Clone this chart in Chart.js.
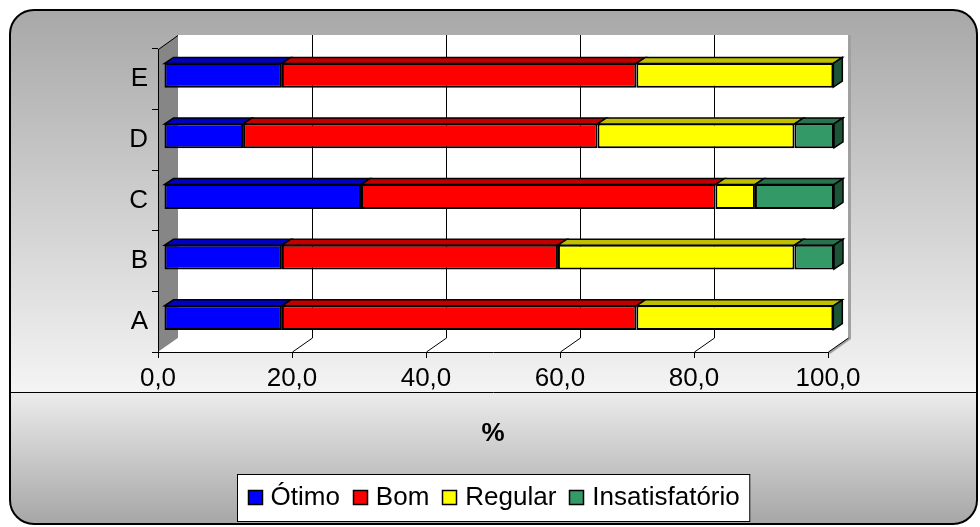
<!DOCTYPE html>
<html><head><meta charset="utf-8">
<script src="https://cdn.jsdelivr.net/npm/chart.js@4.4.0/dist/chart.umd.min.js"></script>
<style>html,body{margin:0;padding:0;background:#fff;} canvas{display:block;}</style>
</head><body>
<canvas id="c" width="980" height="527"></canvas>
<script>
const categories = ['A','B','C','D','E'];
const otimo = [17.6, 17.6, 29.4, 11.8, 17.6];
const bom = [52.9, 41.2, 52.9, 52.9, 52.9];
const regular = [29.4, 35.3, 5.9, 29.4, 29.4];
const insatisfatorio = [0, 5.9, 11.8, 5.9, 0];
const seriesNames = ['Ótimo', 'Bom', 'Regular', 'Insatisfatório'];
const xTicks = [0, 20, 40, 60, 80, 100];
const axisTitle = '%';

const colors = ['#0000FF', '#FF0000', '#FFFF00', '#339966'];
const topColors = ['#0000BF', '#BF0000', '#BFBF00', '#26734D'];
const sideColors = ['#00008C', '#8C0000', '#8C8C00', '#1C5438'];
const FONT = "'Liberation Sans', Arial, sans-serif";
const DEPTH = {dx: 20, dy: -14};
const BAR_SHIFT = {dx: 6, dy: -4};
const BAR_DEPTH = {dx: 9, dy: -6};

function rr(ctx, x, y, w, h, r) {
  ctx.beginPath();
  ctx.moveTo(x + r, y);
  ctx.lineTo(x + w - r, y);
  ctx.arcTo(x + w, y, x + w, y + r, r);
  ctx.lineTo(x + w, y + h - r);
  ctx.arcTo(x + w, y + h, x + w - r, y + h, r);
  ctx.lineTo(x + r, y + h);
  ctx.arcTo(x, y + h, x, y + h - r, r);
  ctx.lineTo(x, y + r);
  ctx.arcTo(x, y, x + r, y, r);
  ctx.closePath();
}
function poly(ctx, pts, fill, stroke, lw) {
  ctx.beginPath();
  ctx.moveTo(pts[0][0], pts[0][1]);
  for (let i = 1; i < pts.length; i++) ctx.lineTo(pts[i][0], pts[i][1]);
  ctx.closePath();
  if (fill) { ctx.fillStyle = fill; ctx.fill(); }
  if (stroke) { ctx.strokeStyle = stroke; ctx.lineWidth = lw || 1; ctx.stroke(); }
}

const threeD = {
  id: 'threeD',
  beforeDraw(chart) {
    const ctx = chart.ctx;
    const {left: L, right: R, top: T, bottom: B} = chart.chartArea;
    const xs = chart.scales.x;
    const splitY = 392;
    ctx.save();
    // frame background
    rr(ctx, 10, 10, 967, 514, 24);
    ctx.save();
    ctx.clip();
    let g1 = ctx.createLinearGradient(0, 10, 0, splitY);
    g1.addColorStop(0, '#a8a8a8');
    g1.addColorStop(1, '#f4f4f4');
    ctx.fillStyle = g1;
    ctx.fillRect(0, 0, 980, splitY);
    let g2 = ctx.createLinearGradient(0, splitY, 0, 524);
    g2.addColorStop(0, '#ececec');
    g2.addColorStop(1, '#a6a6a6');
    ctx.fillStyle = g2;
    ctx.fillRect(0, splitY, 980, 527 - splitY);
    ctx.restore();
    rr(ctx, 10, 10, 967, 514, 24);
    ctx.strokeStyle = '#000';
    ctx.lineWidth = 2;
    ctx.stroke();
    ctx.beginPath();
    ctx.moveTo(11, splitY + 0.5);
    ctx.lineTo(976, splitY + 0.5);
    ctx.lineWidth = 1;
    ctx.stroke();

    const dx = DEPTH.dx, dy = DEPTH.dy;
    // back wall thickness
    ctx.fillStyle = '#a0a0a0';
    ctx.fillRect(R + dx, T + dy, 3, B - T + 1);
    poly(ctx, [[R, B], [R + dx, B + dy], [R + dx + 3, B + dy + 1], [R + 2, B + 2]], '#a0a0a0');
    // back wall
    ctx.fillStyle = '#ffffff';
    ctx.fillRect(L + dx, T + dy, R - L, B - T);
    // side wall
    poly(ctx, [[L, T], [L + dx, T + dy], [L + dx, B + dy], [L, B]], '#868686');
    // floor
    poly(ctx, [[L, B], [R, B], [R + dx, B + dy], [L + dx, B + dy]], '#ffffff');
    // side wall top edge
    ctx.beginPath();
    ctx.moveTo(L + 0.5, T + 0.5);
    ctx.lineTo(L + dx, T + dy + 0.5);
    ctx.strokeStyle = '#000';
    ctx.lineWidth = 1;
    ctx.stroke();
    // gridlines
    ctx.strokeStyle = '#000';
    ctx.lineWidth = 1;
    xTicks.forEach(v => {
      const px = Math.round(xs.getPixelForValue(v)) + 0.5;
      if (v > 0 && v < 100) {
        ctx.beginPath();
        ctx.moveTo(px + dx, T + dy);
        ctx.lineTo(px + dx, B + dy);
        ctx.stroke();
      }
      if (v > 0) {
        ctx.beginPath();
        ctx.moveTo(px, B);
        ctx.lineTo(px + dx, B + dy);
        ctx.stroke();
      }
    });
    ctx.restore();
  },
  beforeDatasetsDraw(chart) {
    chart.ctx.save();
    chart.ctx.translate(BAR_SHIFT.dx, BAR_SHIFT.dy);
  },
  afterDatasetsDraw(chart) {
    const ctx = chart.ctx;
    const n = chart.data.datasets.length;
    const bx = BAR_DEPTH.dx, by = BAR_DEPTH.dy;
    ctx.lineJoin = 'miter';
    for (let i = 0; i < n; i++) {
      const meta = chart.getDatasetMeta(i);
      meta.data.forEach(el => {
        const p = el.getProps(['x', 'y', 'base', 'height'], true);
        const l = Math.min(p.x, p.base), r = Math.max(p.x, p.base);
        const t = p.y - p.height / 2 + 0.5, b = p.y + p.height / 2 - 0.5;
        if (r - l > 0.5) {
          poly(ctx, [[l, t], [r, t], [r + bx, t + by], [l + bx, t + by]], topColors[i], '#000', 1.5);
        }
        if (i === n - 1) {
          poly(ctx, [[r, t], [r + bx, t + by], [r + bx, b + by], [r, b]], sideColors[i], '#000', 1.5);
        }
      });
    }
    ctx.restore();
  },
  afterDraw(chart) {
    const ctx = chart.ctx;
    const xs = chart.scales.x;
    ctx.save();
    // axis title
    ctx.font = 'bold 26px ' + FONT;
    ctx.fillStyle = '#000';
    ctx.textAlign = 'center';
    ctx.textBaseline = 'alphabetic';
    ctx.fillText(axisTitle, (xs.left + xs.right) / 2, 441);
    // legend
    ctx.font = '26px ' + FONT;
    const sq = 15, gapT = 8, gapI = 13, pad = 10;
    const widths = seriesNames.map(s => ctx.measureText(s).width);
    let total = widths.reduce((a, w) => a + sq + gapT + w, 0) + gapI * (seriesNames.length - 1);
    const boxW = total + pad * 2;
    const cx = (xs.left + xs.right) / 2;
    const bx0 = Math.round(cx - boxW / 2) + 0.5;
    ctx.fillStyle = '#fff';
    ctx.fillRect(bx0, 474.5, boxW, 47);
    ctx.strokeStyle = '#000';
    ctx.lineWidth = 1;
    ctx.strokeRect(bx0, 474.5, boxW, 47);
    let x = bx0 + pad;
    ctx.textAlign = 'left';
    seriesNames.forEach((s, i) => {
      ctx.fillStyle = colors[i];
      ctx.fillRect(Math.round(x), 490, sq, sq);
      ctx.strokeStyle = '#000';
      ctx.lineWidth = 1.5;
      ctx.strokeRect(Math.round(x) + 0.5, 490.5, sq - 1, sq - 1);
      ctx.fillStyle = '#000';
      ctx.fillText(s, x + sq + gapT, 505);
      x += sq + gapT + widths[i] + gapI;
    });
    ctx.restore();
  }
};

const datasets = [otimo, bom, regular, insatisfatorio].map((d, i) => ({
  label: seriesNames[i],
  data: d,
  backgroundColor: colors[i],
  borderColor: '#000',
  borderWidth: 2,
  borderSkipped: false,
  categoryPercentage: 1.0,
  barPercentage: 0.41,
  clip: false
}));

new Chart(document.getElementById('c'), {
  type: 'bar',
  data: {labels: categories, datasets},
  options: {
    indexAxis: 'y',
    responsive: false,
    animation: false,
    events: [],
    layout: {padding: {left: 8, right: 152, top: 49, bottom: 135}},
    plugins: {legend: {display: false}, tooltip: {enabled: false}, title: {display: false}},
    scales: {
      x: {
        stacked: true,
        min: 0, max: 100,
        afterBuildTicks(s) { s.ticks = xTicks.map(v => ({value: v})); },
        afterFit(s) { s.height = 40; },
        grid: {drawOnChartArea: false, drawTicks: true, tickLength: 6, color: '#000'},
        border: {display: true, color: '#000', width: 1},
        ticks: {
          color: '#000', padding: 5, maxRotation: 0, autoSkip: false,
          font: {family: FONT, size: 26},
          callback: v => Number(v).toFixed(1).replace('.', ',')
        }
      },
      y: {
        stacked: true,
        reverse: true,
        afterFit(s) { s.width = 150; },
        grid: {drawOnChartArea: false, drawTicks: true, tickLength: 6, color: '#000'},
        border: {display: true, color: '#000', width: 1},
        ticks: {color: '#000', padding: 4, font: {family: FONT, size: 26}}
      }
    }
  },
  plugins: [threeD]
});
</script>
</body></html>
